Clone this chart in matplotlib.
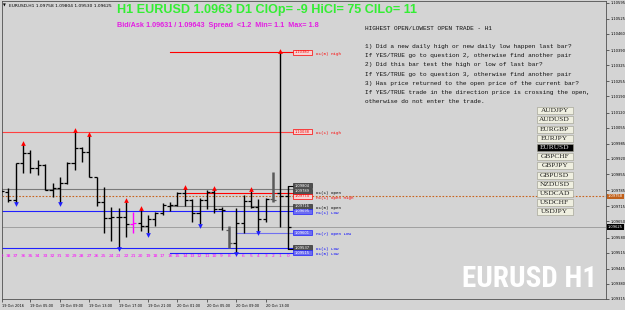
import matplotlib
matplotlib.use("Agg")
import matplotlib.pyplot as plt
from matplotlib.patches import Rectangle
from matplotlib.transforms import blended_transform_factory

# ---- H1 bars, oldest visible (shift 39) to current (shift 0) ---------------
bar_shifts = list(range(39, -1, -1))
bar_open = [1.09778, 1.09778, 1.09742, 1.09904, 1.09944, 1.09879, 1.09894, 1.09788,
            1.09793, 1.09814, 1.09904, 1.09966, 1.09948, 1.09840, 1.09735, 1.09666,
            1.09670, 1.09668, 1.09639, 1.09642, 1.09630, 1.09659, 1.09685, 1.09716,
            1.09721, 1.09774, 1.09742, 1.09685, 1.09742, 1.09778, 1.09702, 1.09613,
            1.09555, 1.09644, 1.09740, 1.09711, 1.09659, 1.09745, 1.09774, 1.09758]
bar_high = [1.09793, 1.09793, 1.09904, 1.09984, 1.09958, 1.09915, 1.09898, 1.09817,
            1.09843, 1.09908, 1.10038, 1.09973, 1.10023, 1.09843, 1.09797, 1.09711,
            1.09706, 1.09735, 1.09692, 1.09702, 1.09678, 1.09692, 1.09728, 1.09735,
            1.09778, 1.09793, 1.09745, 1.09750, 1.09786, 1.09790, 1.09711, 1.09630,
            1.09706, 1.09764, 1.09783, 1.09747, 1.09750, 1.09865, 1.10380, 1.09804]
bar_low = [1.09760, 1.09735, 1.09731, 1.09861, 1.09858, 1.09850, 1.09786, 1.09754,
           1.09731, 1.09812, 1.09872, 1.09908, 1.09840, 1.09716, 1.09598, 1.09567,
           1.09537, 1.09584, 1.09598, 1.09610, 1.09598, 1.09630, 1.09678, 1.09696,
           1.09716, 1.09716, 1.09649, 1.09639, 1.09702, 1.09688, 1.09613, 1.09534,
           1.09515, 1.09598, 1.09706, 1.09606, 1.09649, 1.09735, 1.09624, 1.09530]
bar_close = [1.09783, 1.09742, 1.09904, 1.09944, 1.09879, 1.09894, 1.09788, 1.09793,
             1.09814, 1.09904, 1.09966, 1.09948, 1.09840, 1.09735, 1.09666, 1.09670,
             1.09668, 1.09639, 1.09642, 1.09630, 1.09659, 1.09685, 1.09721, 1.09721,
             1.09774, 1.09742, 1.09685, 1.09742, 1.09778, 1.09702, 1.09699, 1.09555,
             1.09644, 1.09740, 1.09711, 1.09659, 1.09745, 1.09742, 1.09758, 1.09625]

up_arrow_bars = [36, 29, 27, 22, 20, 14, 10, 5, 1]
down_arrow_bars = [37, 31, 23, 19, 12, 7, 4]
gray_bars = [8, 2]
magenta_bars = [21]

# ---- indicator levels drawn as horizontal lines ------------------------------
level_names = ["D1(0) High", "D1(1) High", "D1(1) Open", "H1(1) Open High",
               "D1(0) Open", "H1(1) Low", "H1(7) Open Low", "D1(1) Low", "D1(0) Low"]
level_prices = [1.10380, 1.10038, 1.09789, 1.09774, 1.09716, 1.09695, 1.09601,
                1.09537, 1.09515]
level_start = [16, None, None, 14, 16, None, 7, None, 16]   # None = whole chart
level_colors = ["red", "#ff4040", "#7a7a7a", "red", "#7a7a7a", "#2020ff",
                "#7070f0", "#2020ff", "#2020ff"]
level_text_colors = ["red", "red", "black", "red", "black", "blue", "blue",
                     "blue", "blue"]
level_box_kind = ["red", "red", "dark", "red", "dark", "blue", "blue", "dark", "blue"]

# ---- price / time axis -------------------------------------------------------
price_ticks = ["1.09315", "1.09380", "1.09445", "1.09515", "1.09580", "1.09650",
               "1.09715", "1.09785", "1.09855", "1.09920", "1.09985", "1.10055",
               "1.10120", "1.10190", "1.10255", "1.10325", "1.10390", "1.10460",
               "1.10525", "1.10595"]
time_tick_bars = [39, 35, 31, 27, 23, 19, 15, 11, 7, 3]
time_tick_labels = ["19 Oct 2016", "19 Oct 05:00", "19 Oct 09:00", "19 Oct 13:00",
                    "19 Oct 17:00", "19 Oct 21:00", "20 Oct 01:00", "20 Oct 05:00",
                    "20 Oct 09:00", "20 Oct 13:00"]

# ---- panel texts -------------------------------------------------------------
title_text = "H1 EURUSD 1.0963 D1 ClOp= -9 HiCl= 75 ClLo= 11"
spread_text = "Bid/Ask 1.09631 / 1.09643  Spread  <1.2  Min= 1.1  Max= 1.8"
question_title = "HIGHEST OPEN/LOWEST OPEN TRADE - H1"
question_lines = [
    "1) Did a new daily high or new daily low happen last bar?",
    "If YES/TRUE go to question 2, otherwise find another pair",
    "2) Did this bar test the high or low of last bar?",
    "If YES/TRUE go to question 3, otherwise find another pair",
    "3) Has price returned to the open price of the current bar?",
    "If YES/TRUE trade in the direction price is crossing the open,",
    "otherwise do not enter the trade.",
]
pairs = ["AUDJPY", "AUDUSD", "EURGBP", "EURJPY", "EURUSD", "GBPCHF", "GBPJPY",
         "GBPUSD", "NZDUSD", "USDCAD", "USDCHF", "USDJPY"]
active_pair = "EURUSD"

BG = "#d4d4d4"
W, H = 625, 310
BAR_PX = 7.35          # pixels per bar
PX = 0.0000432         # price per pixel
BOX_KINDS = {"red": ("#f4d4d4", "red", "red"),
             "blue": ("#6c6cf0", "#2020ff", "white"),
             "dark": ("#505050", "#303030", "white")}


def main():
    fig = plt.figure(figsize=(W / 100, H / 100), dpi=100, facecolor=BG)
    ax = fig.add_axes([2 / W, (H - 299.3) / H, 603.5 / W, 298.3 / H], facecolor=BG)
    x_left = -(287.7 - 2) / BAR_PX
    ax.set_xlim(x_left, x_left + 603.5 / BAR_PX)
    ax.set_ylim(1.09315 - 0.3 * PX, 1.09315 + 298.0 * PX)
    for sp in ax.spines.values():
        sp.set_color("#505050")
        sp.set_linewidth(0.6)

    # ---- horizontal levels --------------------------------------------------
    x_box = 0.68
    box_w = 19 / BAR_PX
    for name, p, start, col in zip(level_names, level_prices, level_start, level_colors):
        x0 = x_left if start is None else -start
        ax.plot([x0, x_box], [p, p], color=col, lw=0.8, zorder=2)

    close0 = bar_close[-1]
    open0 = bar_open[-1]
    ax.axhline(close0, color="#a0a0a0", lw=0.7, zorder=1)
    ax.axhline(open0, color="#c8641e", lw=0.8, ls=(0, (1.5, 1.5)), zorder=1)

    # ---- OHLC bars ----------------------------------------------------------
    for s, o, h, l, c in zip(bar_shifts, bar_open, bar_high, bar_low, bar_close):
        x = -s
        col, lw = "black", 1.0
        if s in gray_bars:
            col, lw = "#5a5a5a", 1.8
        if s in magenta_bars:
            col = "#ff00ff"
        ax.plot([x, x], [l, h], color=col, lw=lw, solid_capstyle="butt", zorder=3)
        ax.plot([x - 0.42, x], [o, o], color=col, lw=0.9, solid_capstyle="butt", zorder=3)
        ax.plot([x, x + 0.42], [c, c], color=col, lw=0.9, solid_capstyle="butt", zorder=3)
        if s in up_arrow_bars:
            ax.plot(x, h + 1.5 * PX, marker="^", ms=3.4, mew=0, color="red", zorder=4)
        if s in down_arrow_bars:
            ax.plot(x, l - 1.5 * PX, marker="v", ms=3.4, mew=0, color="#2020ff", zorder=4)

    # connectors from current bar high / low to their labels
    ax.plot([0, x_box], [bar_high[-1]] * 2, color="black", lw=0.8, zorder=3)
    ax.plot([0, x_box], [bar_low[-1]] * 2, color="black", lw=0.8, zorder=3)

    # ---- price boxes + level names -----------------------------------------
    # boxes are stacked top-down so that they do not cover each other
    boxes = list(zip(level_prices, level_box_kind, level_names, level_text_colors))
    boxes.append((bar_high[-1], "dark", None, None))
    boxes.sort(key=lambda b: -b[0])
    prev_y = None
    for p, kind, name, tc_name in boxes:
        y = p
        if prev_y is not None and prev_y - y < 5.2 * PX:
            y = prev_y - 5.2 * PX
        prev_y = y
        fc, ec, tc = BOX_KINDS[kind]
        ax.add_patch(Rectangle((x_box, y - 2.5 * PX), box_w, 5 * PX, fc=fc, ec=ec,
                               lw=0.5, zorder=5))
        ax.text(x_box + box_w / 2, y, f"{p:.5f}", fontsize=2.6, color=tc,
                ha="center", va="center", zorder=6)
        if name:
            ax.text(x_box + box_w + 0.6, y - 1.5 * PX, name, fontsize=3.0,
                    color=tc_name, family="Liberation Mono", ha="left",
                    va="center", zorder=6)

    # ---- bar numbers --------------------------------------------------------
    bt = blended_transform_factory(ax.transData, ax.transAxes)
    for s in bar_shifts:
        ax.text(-s, 0.145, str(s), transform=bt, fontsize=3.2, color="#ff00ff",
                ha="center", va="center", clip_on=True)

    # ---- axes ticks ---------------------------------------------------------
    ax.yaxis.tick_right()
    ax.set_yticks([float(t) for t in price_ticks])
    ax.set_yticklabels(price_ticks)
    ax.tick_params(axis="y", length=2, width=0.5, labelsize=2.6, pad=1.5,
                   color="#303030")
    ax.set_xticks([max(-s, x_left + 0.02) for s in time_tick_bars])
    ax.set_xticklabels(time_tick_labels)
    ax.tick_params(axis="x", length=2.5, width=0.5, labelsize=2.5, pad=0.8,
                   color="#303030")
    for lbl in ax.get_xticklabels():
        lbl.set_ha("left")

    rt = blended_transform_factory(ax.transAxes, ax.transData)
    for p, fc in [(open0, "#c0601a"), (close0, "black")]:
        ax.text(1.0 + 2.5 / 603.5, p, f"{p:.5f}", transform=rt, fontsize=2.6,
                color="white", ha="left", va="center", clip_on=False,
                bbox=dict(boxstyle="square,pad=0.25", fc=fc, ec="none"))

    # ---- watermark ------------------------------------------------------------
    ax.text(0.874, 0.040, "EURUSD H1", transform=ax.transAxes, ha="center",
            va="baseline", color="white", fontsize=21, weight="bold",
            family=["Roboto Condensed", "Liberation Sans Narrow", "DejaVu Sans"])

    # ---- header texts -----------------------------------------------------------
    fig.text(3 / W, 1 - 6.7 / H, "\u25bc", fontsize=2.6, va="baseline")
    fig.text(8.7 / W, 1 - 6.7 / H,
             "EURUSD,H1 %.5f %.5f %.5f %.5f" % (bar_open[-1], bar_high[-1],
                                                  bar_low[-1], bar_close[-1]),
             fontsize=3.2, va="baseline")
    fig.text(116.7 / W, 1 - 13.3 / H, title_text, fontsize=9.1, weight="bold",
             color="#33ee33", family="Liberation Sans", va="baseline")
    fig.text(116.7 / W, 1 - 27.3 / H, spread_text, fontsize=5.2, weight="bold",
             color="#e31ee3", family="Liberation Sans", va="baseline")

    fig.text(365 / W, 1 - 28.0 / H, question_title, family="Liberation Mono",
             fontsize=4.4, va="center", color="#101010")
    for k, line in enumerate(question_lines):
        fig.text(365 / W, 1 - (46.4 + 9.2 * k) / H, line, family="Liberation Mono",
                 fontsize=4.4, va="center", color="#101010")

    # ---- pair buttons -----------------------------------------------------------
    for k, pair in enumerate(pairs):
        yc = 110.7 + 9.2 * k
        active = pair == active_pair
        fig.add_artist(Rectangle((536.7 / W, 1 - (yc + 3.5) / H), 36 / W, 7 / H,
                                 transform=fig.transFigure,
                                 fc="black" if active else "#efefe0",
                                 ec="#9a9a8a", lw=0.4))
        fig.text(554.7 / W, 1 - yc / H, pair, family="Liberation Serif",
                 fontsize=5.3, ha="center", va="center",
                 color="#e0e0e0" if active else "#202020")

    fig.savefig("out.png", dpi=100, facecolor=BG)


if __name__ == "__main__":
    main()
